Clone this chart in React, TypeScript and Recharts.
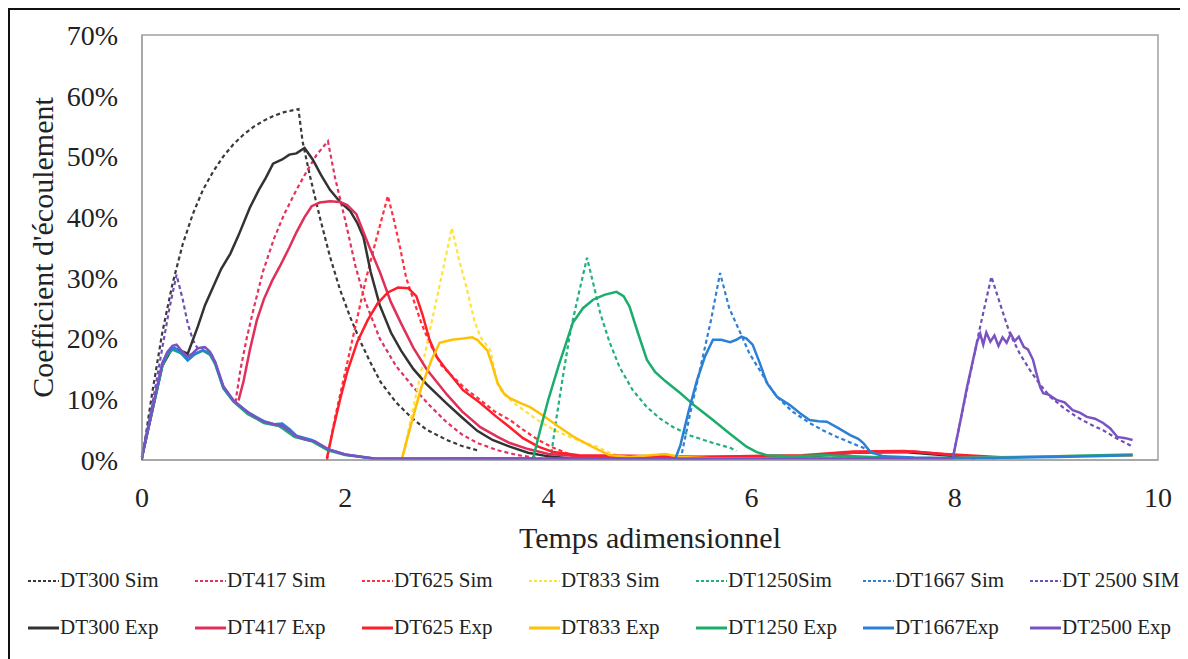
import { ComposedChart, Line, XAxis, YAxis, ReferenceArea } from "recharts";

// temps adimensionnel / coefficient d'écoulement (%)
const xTicks = [0, 2, 4, 6, 8, 10];
const yTicks = [0, 10, 20, 30, 40, 50, 60, 70];

const dt300Sim = [[0,0],[0.1,11],[0.2,21],[0.3,29],[0.4,35.5],[0.5,40.5],[0.6,44.5],[0.7,47.5],[0.8,50],[0.9,52],[1.0,53.6],[1.1,54.9],[1.2,55.9],[1.3,56.7],[1.4,57.3],[1.54,57.8],[1.58,52.5],[1.65,47],[1.75,40],[1.85,33.5],[1.95,28],[2.05,23.5],[2.15,19.5],[2.25,16],[2.35,12.8],[2.5,9.5],[2.65,7],[2.8,5],[3.0,3.3],[3.15,2.3],[3.3,1.6]];
const dt417Sim = [[0.92,9.5],[0.97,15],[1.03,20],[1.1,25],[1.19,31],[1.3,36.5],[1.4,40.5],[1.52,44.5],[1.62,47.5],[1.72,50.3],[1.83,52.5],[1.9,46.5],[2.0,39.5],[2.1,32],[2.2,26],[2.34,20],[2.5,15.5],[2.67,12],[2.83,9],[3.0,6.2],[3.15,4.2],[3.3,2.8],[3.5,1.6],[3.7,0.8],[3.9,0.3]];
const dt625Sim = [[1.82,0],[1.9,7],[2.0,14.5],[2.1,22],[2.2,29.5],[2.3,36],[2.42,43.5],[2.48,39.5],[2.54,35],[2.6,30],[2.67,26.5],[2.75,22.5],[2.83,19.3],[2.95,15.5],[3.06,13.7],[3.2,11.5],[3.33,9.9],[3.47,8],[3.62,6.6],[3.75,5],[3.9,3.3],[4.05,2],[4.2,1]];
const dt833Sim = [[2.56,0],[3.05,38.2],[3.12,33],[3.2,28],[3.27,23],[3.33,20.3],[3.43,18],[3.5,12.5],[3.55,11],[3.65,9.5],[3.75,8.3],[3.89,6.6],[4.05,5],[4.21,3.8],[4.35,2.9],[4.48,2.2],[4.6,1.2],[4.75,0.5]];
const dt1250Sim = [[4.02,0],[4.08,7],[4.15,14.5],[4.22,21.5],[4.3,27.5],[4.38,33.3],[4.45,28.5],[4.51,24.2],[4.6,19.5],[4.7,15.3],[4.83,11.5],[4.97,8.7],[5.1,6.8],[5.23,5.4],[5.4,4],[5.62,2.8],[5.79,2.0],[5.85,1.5]];
const dt1667Sim = [[5.3,0],[5.4,8],[5.5,15.5],[5.6,23],[5.69,30.8],[5.78,25],[5.89,20.9],[5.98,17.5],[6.08,14.8],[6.17,12.3],[6.25,10.4],[6.4,8],[6.57,6.1],[6.7,4.9],[6.84,3.8],[6.97,2.9],[7.1,2],[7.2,1]];
const dt2500Sim = [[0,0.5],[0.1,9],[0.2,18.5],[0.27,25],[0.34,30.5],[0.4,26.5],[0.45,22.5],[0.5,19.8],[0.55,18.3],[0.62,18.6],[0.68,17.6],[0.72,16],[0.8,12],[0.9,9.8],[1.04,7.6],[1.2,6.2],[1.35,5.6],[1.5,4],[1.67,3.2],[1.83,1.7],[2.0,0.9],[2.3,0.2],[7.98,0.3],[8.05,6],[8.15,14],[8.25,22],[8.36,30.2],[8.45,25.5],[8.54,20.9],[8.64,17.5],[8.74,14.8],[8.84,12.4],[8.94,10.4],[9.07,8.6],[9.2,7.1],[9.33,5.9],[9.46,4.9],[9.6,3.5],[9.75,2.2]];

const dt300Exp = [[0,0.5],[0.1,8],[0.2,15.5],[0.3,18.5],[0.38,18],[0.45,17.5],[0.49,19.3],[0.55,22],[0.62,25.5],[0.7,28.5],[0.78,31.5],[0.87,34],[0.95,37],[1.06,41.5],[1.15,44.5],[1.22,46.5],[1.29,48.8],[1.38,49.5],[1.45,50.3],[1.52,50.5],[1.6,51.4],[1.68,49.5],[1.76,47],[1.85,44.5],[1.95,42.5],[2.05,41],[2.12,39],[2.18,36.7],[2.25,31],[2.34,25.5],[2.45,21],[2.55,18],[2.67,15],[2.8,12.5],[3.0,9.3],[3.15,7],[3.3,4.8],[3.45,3.3],[3.62,2.2],[3.8,1.2],[4.0,0.6],[4.2,0.3],[5.5,0.2],[6.5,0.5],[7.0,1.2],[7.5,1.3],[7.9,0.8],[8.2,0.3]];
const dt417Exp = [[0.95,9.8],[1.0,13],[1.06,18],[1.13,23],[1.2,26.5],[1.28,29.5],[1.36,32],[1.45,35],[1.52,37.5],[1.6,40],[1.67,41.8],[1.75,42.4],[1.85,42.6],[1.95,42.5],[2.02,42],[2.11,40.5],[2.18,37.5],[2.24,35],[2.34,31],[2.45,26],[2.55,22.5],[2.67,18.5],[2.8,15],[3.0,10.8],[3.15,8],[3.33,5.4],[3.5,3.8],[3.62,2.8],[3.8,1.8],[4.0,1.0],[4.3,0.6],[5.0,0.5],[6.5,0.6],[7.0,1.2],[7.6,1.4],[8.0,0.8],[8.4,0.3]];
const dt625Exp = [[1.82,0.3],[1.88,5],[1.95,10],[2.02,14.5],[2.12,19.5],[2.22,23],[2.32,25.8],[2.42,27.6],[2.52,28.4],[2.62,28.3],[2.7,27],[2.76,24],[2.83,19.8],[2.9,17],[3.0,14.8],[3.16,11.5],[3.33,9.4],[3.49,7.1],[3.62,5.4],[3.75,3.6],[3.9,2.2],[4.05,1.3],[4.3,0.8],[4.8,0.7],[5.5,0.5],[6.5,0.8],[7.0,1.4],[7.5,1.5],[7.9,1.0],[8.5,0.4]];
const dt833Exp = [[2.56,0.3],[2.65,6],[2.75,12],[2.85,16.5],[2.93,19.3],[3.05,19.8],[3.16,20],[3.25,20.2],[3.3,19.8],[3.4,18],[3.45,15.5],[3.5,12.7],[3.56,11],[3.62,10.2],[3.72,9.4],[3.82,8.7],[3.95,7.3],[4.11,5.4],[4.25,3.8],[4.44,2.1],[4.6,0.8],[4.8,0.5],[5.0,0.8],[5.15,1.0],[5.3,0.5],[5.6,0.3],[7.5,0.2],[8.0,0.3],[8.5,0.5],[9.0,0.6],[9.75,0.7]];
const dt1250Exp = [[0,0.5],[0.1,8],[0.2,15.5],[0.25,17.3],[0.3,18.2],[0.38,17.6],[0.45,16.5],[0.52,17.4],[0.6,18],[0.67,17.3],[0.72,15.8],[0.8,11.8],[0.9,9.6],[1.04,7.6],[1.2,6.1],[1.35,5.6],[1.5,3.8],[1.67,3.1],[1.83,1.6],[2.0,0.8],[2.3,0.2],[3.85,0.3],[3.92,5],[4.0,10],[4.1,15.5],[4.24,22.6],[4.34,25],[4.44,26.4],[4.55,27.2],[4.67,27.7],[4.74,27],[4.8,25.2],[4.88,21],[4.97,16.5],[5.05,14.5],[5.15,13],[5.3,11],[5.45,8.8],[5.62,6.6],[5.78,4.4],[5.95,2.2],[6.05,1.3],[6.15,0.8],[6.4,0.6],[6.7,0.8],[7.0,0.6],[7.5,0.3],[8.5,0.4],[9.2,0.7],[9.75,0.9]];
const dt1667Exp = [[0,0.5],[0.1,8.2],[0.2,15.8],[0.25,17.6],[0.32,18.5],[0.4,17.4],[0.45,16.4],[0.52,17.5],[0.6,18.1],[0.67,17.5],[0.72,16],[0.8,12],[0.9,9.8],[1.04,7.9],[1.2,6.4],[1.3,5.9],[1.38,6.0],[1.45,5.1],[1.52,4],[1.67,3.3],[1.83,1.8],[2.0,0.9],[2.3,0.2],[5.25,0.2],[5.3,2.5],[5.38,8],[5.46,13],[5.54,17],[5.62,19.8],[5.7,19.8],[5.79,19.4],[5.85,19.8],[5.9,20.3],[5.95,20],[6.01,19],[6.08,16],[6.15,12.7],[6.25,10.4],[6.38,9],[6.47,7.8],[6.57,6.6],[6.66,6.4],[6.74,6.3],[6.85,5.3],[6.97,4.1],[7.05,3.5],[7.1,2.8],[7.17,1.3],[7.3,0.6],[7.6,0.4],[8.0,0.3],[9.0,0.5],[9.75,0.8]];
const dt2500Exp = [[0,0.5],[0.1,8.3],[0.2,16],[0.25,17.8],[0.3,18.8],[0.34,19],[0.4,17.8],[0.45,17],[0.5,17.6],[0.55,18.4],[0.62,18.6],[0.67,17.8],[0.72,16.2],[0.8,12.2],[0.9,9.8],[1.0,8.4],[1.1,7.2],[1.2,6.3],[1.3,5.9],[1.38,5.6],[1.45,4.8],[1.52,3.9],[1.6,3.4],[1.7,3.1],[1.83,1.8],[2.0,0.9],[2.3,0.2],[7.98,0.3],[8.05,6],[8.12,12],[8.18,16.5],[8.22,19.5],[8.25,20.8],[8.28,19],[8.31,21],[8.35,19.5],[8.39,20.5],[8.43,18.8],[8.47,20.2],[8.51,19.3],[8.55,20.8],[8.59,19.6],[8.63,20.3],[8.68,18.6],[8.72,18.2],[8.77,16.5],[8.8,14.5],[8.84,12],[8.87,11],[8.92,10.8],[9.0,9.9],[9.08,9.5],[9.16,8.2],[9.23,7.8],[9.3,7.1],[9.38,6.8],[9.46,6.1],[9.53,5.2],[9.6,3.8],[9.68,3.6],[9.75,3.3]];

const simSeries = [
  { name: "DT300 Sim", data: dt300Sim, color: "#3a3a3a" },
  { name: "DT417 Sim", data: dt417Sim, color: "#e2325e" },
  { name: "DT625 Sim", data: dt625Sim, color: "#ff3040" },
  { name: "DT833 Sim", data: dt833Sim, color: "#ffe23a" },
  { name: "DT1250Sim", data: dt1250Sim, color: "#22b07c" },
  { name: "DT1667 Sim", data: dt1667Sim, color: "#2f7fd2" },
  { name: "DT 2500 SIM", data: dt2500Sim, color: "#6e4fb8" },
];
const expSeries = [
  { name: "DT300 Exp", data: dt300Exp, color: "#333333" },
  { name: "DT417 Exp", data: dt417Exp, color: "#e0305a" },
  { name: "DT625 Exp", data: dt625Exp, color: "#ff1f2a" },
  { name: "DT833 Exp", data: dt833Exp, color: "#ffc107" },
  { name: "DT1250 Exp", data: dt1250Exp, color: "#1aad6c" },
  { name: "DT1667Exp", data: dt1667Exp, color: "#2a80d4" },
  { name: "DT2500 Exp", data: dt2500Exp, color: "#7a52c4" },
];

const pts = (a: number[][]) => a.map(([x, y]) => ({ x, y }));
const font = "Liberation Serif, Times New Roman, serif";

const XTick = ({ x, y, payload }: any) => (
  <text x={x} y={y} dy="0.71em" textAnchor="middle" fontFamily={font} fontSize={28} fill="#222">
    {payload.value}
  </text>
);
const YTick = ({ x, y, payload }: any) => (
  <text x={x} y={y} dy="0.35em" textAnchor="end" fontFamily={font} fontSize={28} fill="#222">
    {`${payload.value}%`}
  </text>
);

const LegendRow = ({ items, dashed, top }: { items: typeof simSeries; dashed: boolean; top: number }) => (
  <div style={{ position: "absolute", top, left: 18, display: "flex" }}>
    {items.map((s) => (
      <div key={s.name} style={{ width: 167, display: "flex", alignItems: "center" }}>
        <svg width={32} height={6}>
          <line x1={0} y1={3} x2={31} y2={3} stroke={s.color} strokeWidth={dashed ? 1.8 : 3} strokeDasharray={dashed ? "3 2" : undefined} />
        </svg>
        <span style={{ fontFamily: font, fontSize: 21, color: "#222", whiteSpace: "nowrap" }}>{s.name}</span>
      </div>
    ))}
  </div>
);

export default function App() {
  return (
    <div style={{ position: "relative", width: 1180, height: 651, borderTop: "2px solid #111", borderLeft: "2px solid #111", background: "#fff", fontFamily: font, overflow: "hidden" }}>
      <ComposedChart width={1176} height={645} margin={{ top: 25, right: 28, bottom: 105, left: 0 }}>
        <XAxis
          type="number"
          dataKey="x"
          domain={[0, 10]}
          ticks={xTicks}
          tickLine={false}
          tickSize={0}
          tickMargin={27}
          axisLine={{ stroke: "#999" }}
          height={90}
          tick={<XTick />}
          allowDuplicatedCategory={false}
          label={(p: any) => (
            <text x={p.viewBox.x + p.viewBox.width / 2} y={p.viewBox.y + 77} textAnchor="middle" dominantBaseline="central" fontFamily={font} fontSize={30} fill="#222">
              Temps adimensionnel
            </text>
          )}
        />
        <YAxis
          type="number"
          domain={[0, 70]}
          ticks={yTicks}
          tickLine={false}
          tickSize={0}
          tickMargin={24}
          axisLine={{ stroke: "#999" }}
          width={132}
          tick={<YTick />}
          label={(p: any) => {
            const cx = 32;
            const cy = p.viewBox.y + p.viewBox.height / 2;
            return (
              <text x={cx} y={cy} transform={`rotate(-90 ${cx} ${cy})`} textAnchor="middle" dominantBaseline="central" fontFamily={font} fontSize={30} fill="#222">
                Coefficient d'écoulement
              </text>
            );
          }}
        />
        <ReferenceArea x1={0} x2={10} y1={0} y2={70} fill="none" stroke="#a0a0a0" strokeWidth={1.5} />
        {simSeries.map((s) => (
          <Line key={s.name} data={pts(s.data)} dataKey="y" name={s.name} type="linear" stroke={s.color} strokeWidth={2.2} strokeDasharray="4 3" dot={false} isAnimationActive={false} />
        ))}
        {expSeries.map((s) => (
          <Line key={s.name} data={pts(s.data)} dataKey="y" name={s.name} type="linear" stroke={s.color} strokeWidth={2.5} dot={false} isAnimationActive={false} />
        ))}
      </ComposedChart>
      <LegendRow items={simSeries} dashed top={558} />
      <LegendRow items={expSeries} dashed={false} top={605} />
    </div>
  );
}
